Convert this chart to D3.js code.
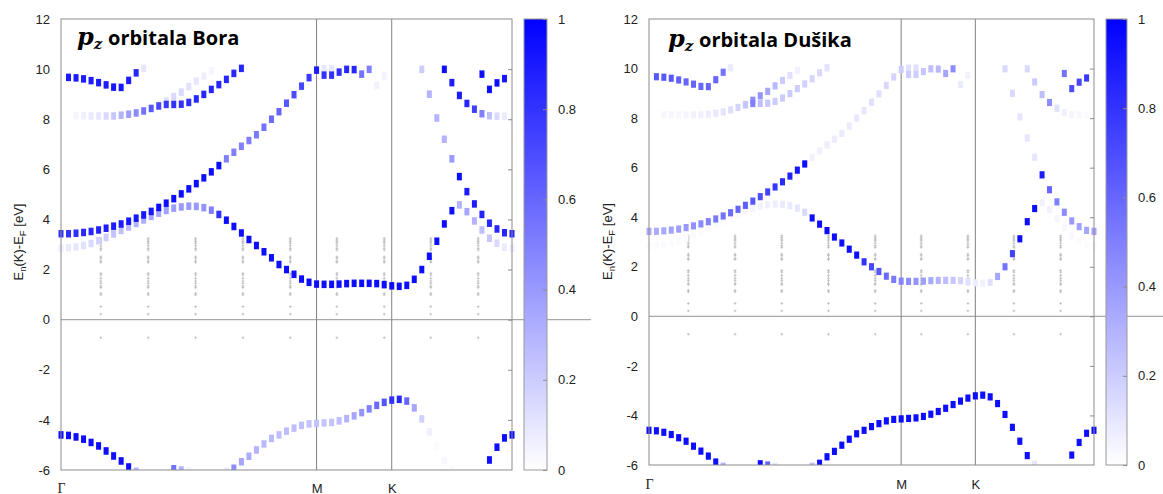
<!DOCTYPE html>
<html>
<head>
<meta charset="utf-8">
<script src="https://cdn.jsdelivr.net/npm/d3@7"></script>
<style>
  body { margin: 0; background: #fff; }
  svg { display: block; font-family: "Liberation Sans", Arial, sans-serif; }
  .tick text { font-size: 13px; fill: #222; font-family: "Liberation Sans", Arial, sans-serif; }
</style>
</head>
<body>
<svg id="chart" width="1163" height="494"></svg>
<script>
// pz projected band structure of h-BN, two panels (B and N weights)

// axis data
const kLabels = ['Γ', 'M', 'K'];
const kLabelIdx = [0, 34, 44];
const kMax = 60;
const energyTicks = [-6, -4, -2, 0, 2, 4, 6, 8, 10, 12];
const weightTicks = [0, 0.2, 0.4, 0.6, 0.8, 1];
const titleNames = ['Bora', 'Dušika'];

// small gray markers (k index of column, energies)
const refColumns = [5.3, 11.6, 17.9, 24.2, 30.5, 36.7, 43.0, 49.2, 55.5];
const refEnergies = [3.25, 3.18, 3.11, 3.05, 2.95, 2.85, 2.78, 2.51, 2.45, 2.34, 2.29,
    1.85, 1.78, 1.65, 1.54, 1.45, 1.34, 1.28, 1.05, 0.99, 0.52, 0.22, -0.72];

// band segments: energies starting at a k index, weight for B pz and N pz
const c1GM = [3.43, 3.43, 3.45, 3.48, 3.52, 3.58, 3.65, 3.73, 3.82, 3.93,
    4.05, 4.18, 4.32, 4.48, 4.65, 4.83, 5.02, 5.22, 5.43, 5.66,
    5.9, 6.15, 6.42, 6.68, 6.92, 7.15, 7.38, 7.68, 8.0, 8.3,
    8.64, 8.98, 9.32, 9.66, 9.96];
const c1GM_B = [0.8, 0.8, 0.82, 0.83, 0.85, 0.86, 0.88, 0.9, 0.9, 0.92,
    0.92, 0.93, 0.93, 0.94, 0.95, 0.95, 0.95, 0.95, 0.95, 0.95,
    0.95, 0.95, 0.5, 0.5, 0.5, 0.5, 0.52, 0.55, 0.58, 0.6,
    0.65, 0.7, 0.72, 0.78, 0.9];
const c1GM_N = [0.33, 0.33, 0.34, 0.36, 0.38, 0.4, 0.43, 0.46, 0.49, 0.52,
    0.55, 0.58, 0.6, 0.63, 0.66, 0.7, 0.74, 0.78, 0.83, 0.87,
    0.92, 0.97, 0.06, 0.06, 0.07, 0.07, 0.08, 0.08, 0.09, 0.1,
    0.12, 0.13, 0.15, 0.17, 0.2];

const c1KG = [9.99, 9.0, 8.05, 7.2, 6.42, 5.71, 5.11, 4.62, 4.2, 3.85, 3.62, 3.47, 3.43];
const c1KG_B = [0.2, 0.3, 0.3, 0.3, 0.4, 0.95, 0.9, 0.88, 0.86, 0.85, 0.85, 0.85, 0.85];
const c1KG_N = [0.15, 0.15, 0.1, 0.1, 0.1, 0.9, 0.6, 0.5, 0.45, 0.4, 0.37, 0.35, 0.35];

const c2 = [2.85, 2.87, 2.9, 2.96, 3.04, 3.15, 3.28, 3.42, 3.56, 3.7,
    3.84, 3.98, 4.12, 4.25, 4.36, 4.45, 4.5, 4.53, 4.52, 4.47,
    4.37, 4.2, 3.97, 3.72, 3.46, 3.2, 2.96, 2.71, 2.47, 2.2,
    2.0, 1.81, 1.62, 1.49, 1.42, 1.41, 1.41, 1.42, 1.44, 1.45,
    1.45, 1.45, 1.44, 1.4, 1.35, 1.33, 1.37, 1.61, 2.0, 2.53,
    3.13, 3.82, 4.35, 4.58, 4.31, 3.94, 3.58, 3.25, 3.05, 2.89,
    2.85];
const c2_B = [0.06, 0.08, 0.1, 0.12, 0.15, 0.18, 0.2, 0.23, 0.25, 0.28,
    0.3, 0.32, 0.34, 0.35, 0.37, 0.38, 0.4, 0.4, 0.4, 0.42,
    0.5, 0.8, 0.95, 0.95, 0.95, 0.95, 0.95, 0.95, 0.95, 0.95,
    0.95, 0.95, 0.95, 0.95, 0.95, 0.95, 0.95, 0.95, 0.95, 0.95,
    0.95, 0.95, 0.95, 0.95, 0.95, 0.95, 0.95, 0.95, 0.95, 0.95,
    0.95, 0.95, 0.95, 0.3, 0.35, 0.3, 0.25, 0.22, 0.15, 0.08,
    0.06];
const c2_N = [0.02, 0.02, 0.02, 0.02, 0.02, 0.02, 0.02, 0.02, 0.02, 0.02,
    0.02, 0.02, 0.02, 0.03, 0.04, 0.05, 0.06, 0.07, 0.08, 0.08,
    0.1, 0.15, 0.95, 0.95, 0.95, 0.95, 0.95, 0.95, 0.95, 0.8,
    0.72, 0.65, 0.58, 0.52, 0.48, 0.45, 0.42, 0.38, 0.34, 0.3,
    0.26, 0.22, 0.17, 0.12, 0.07, 0.05, 0.12, 0.35, 0.55, 0.75,
    0.95, 0.97, 0.97, 0.05, 0.05, 0.04, 0.03, 0.03, 0.02, 0.02,
    0.02];

const t1G = [9.67, 9.65, 9.61, 9.54, 9.46, 9.37, 9.28, 9.27, 9.55, 9.85, 10.03];
const t1G_B = [0.9, 0.9, 0.9, 0.9, 0.9, 0.9, 0.92, 0.92, 0.9, 0.85, 0.1];
const t1G_N = [0.65, 0.65, 0.65, 0.62, 0.6, 0.6, 0.6, 0.6, 0.6, 0.55, 0.08];
const t1K = [9.8, 9.19, 9.45, 9.62];
const t1K_B = [0.95, 0.95, 0.95, 0.92];
const t1K_N = [0.55, 0.7, 0.72, 0.78];

const t2G = [8.14, 8.14, 8.13, 8.13, 8.13, 8.13, 8.16, 8.2, 8.25, 8.33, 8.43, 8.53,
    8.59, 8.59, 8.6, 8.67, 8.81, 8.99, 9.19, 9.38, 9.59, 9.83, 10.03];
const t2G_B = [0.04, 0.06, 0.08, 0.1, 0.15, 0.22, 0.3, 0.38, 0.45, 0.55, 0.65, 0.72,
    0.78, 0.8, 0.8, 0.82, 0.85, 0.85, 0.85, 0.85, 0.85, 0.85, 0.85];
const t2G_N = [0.03, 0.03, 0.03, 0.04, 0.05, 0.06, 0.07, 0.09, 0.11, 0.13, 0.17, 0.22,
    0.5, 0.25, 0.22, 0.2, 0.2, 0.2, 0.2, 0.18, 0.16, 0.15, 0.12];
const t2K = [9.99, 9.46, 8.95, 8.63, 8.4, 8.22, 8.14, 8.12, 8.12];
const t2K_B = [0.95, 0.9, 0.9, 0.85, 0.75, 0.5, 0.25, 0.15, 0.08];
const t2K_N = [0.15, 0.2, 0.25, 0.45, 0.12, 0.06, 0.04, 0.03, 0.02];

const t3 = [8.55, 8.72, 8.9, 9.08, 9.3, 9.52, 9.72, 9.93];
const t3_B = [0.08, 0.12, 0.15, 0.15, 0.12, 0.1, 0.07, 0.04];
const t3_N = [0.2, 0.45, 0.42, 0.35, 0.28, 0.2, 0.12, 0.06];

const u1 = [9.76, 9.76, 9.88, 9.99, 9.98, 9.8, 9.99, 9.35, 9.72];
const u1_B = [0.8, 0.8, 0.82, 0.85, 0.85, 0.55, 0.5, 0.05, 0.05];
const u1_N = [0.2, 0.2, 0.22, 0.25, 0.28, 0.35, 0.45, 0.08, 0.05];
const u2 = [10.02, 10.02];
const u2_B = [0.1, 0.1];
const u2_N = [0.12, 0.12];

const v1G = [-4.6, -4.62, -4.68, -4.77, -4.9, -5.04, -5.24, -5.44, -5.64, -5.88, -6.05];
const v1G_B = [0.97, 0.97, 0.97, 0.97, 0.97, 0.97, 0.97, 0.97, 0.97, 0.97, 0.3];
const v1G_N = [0.97, 0.97, 0.97, 0.97, 0.97, 0.97, 0.97, 0.97, 0.97, 0.97, 0.3];
const v1K = [-5.6, -5.09, -4.72, -4.6];
const v1K_B = [0.97, 0.97, 0.97, 0.97];
const v1K_N = [0.95, 0.95, 0.95, 0.95];

const v2 = [-6.05, -5.93, -5.67, -5.45, -5.2, -4.96, -4.74, -4.6, -4.45, -4.33,
    -4.22, -4.16, -4.14, -4.12, -4.1, -4.04, -3.95, -3.84, -3.71, -3.56,
    -3.42, -3.3, -3.21, -3.18, -3.25, -3.52, -3.96, -4.48, -5.04, -5.62,
    -5.97];
const v2_B = [0.08, 0.45, 0.35, 0.33, 0.3, 0.28, 0.27, 0.26, 0.25, 0.25,
    0.25, 0.24, 0.23, 0.23, 0.24, 0.26, 0.3, 0.35, 0.42, 0.5,
    0.58, 0.68, 0.8, 0.85, 0.6, 0.35, 0.18, 0.06, 0.02, 0.03,
    0.02];
const v2_N = [0.25, 0.97, 0.97, 0.97, 0.97, 0.97, 0.97, 0.97, 0.97, 0.97,
    0.97, 0.97, 0.97, 0.97, 0.97, 0.97, 0.97, 0.97, 0.97, 0.97,
    0.97, 0.97, 0.97, 0.97, 0.97, 0.97, 0.97, 0.97, 0.97, 0.97,
    0.1];

const v3 = [-5.95, -6.0, -6.05];
const v3_B = [0.55, 0.3, 0.05];
const v3_N = [0.95, 0.6, 0.1];

const segments = [
    { start: 0, e: c1GM, w: [c1GM_B, c1GM_N] },
    { start: 48, e: c1KG, w: [c1KG_B, c1KG_N] },
    { start: 0, e: c2, w: [c2_B, c2_N] },
    { start: 1, e: t1G, w: [t1G_B, t1G_N] },
    { start: 56, e: t1K, w: [t1K_B, t1K_N] },
    { start: 2, e: t2G, w: [t2G_B, t2G_N] },
    { start: 51, e: t2K, w: [t2K_B, t2K_N] },
    { start: 13, e: t3, w: [t3_B, t3_N] },
    { start: 35, e: u1, w: [u1_B, u1_N] },
    { start: 35, e: u2, w: [u2_B, u2_N] },
    { start: 0, e: v1G, w: [v1G_B, v1G_N] },
    { start: 57, e: v1K, w: [v1K_B, v1K_N] },
    { start: 22, e: v2, w: [v2_B, v2_N] },
    { start: 15, e: v3, w: [v3_B, v3_N] }
];

// panel layout
const panels = [
    { left: 61, right: 512, top: 19, bottom: 470, cbLeft: 524, cbRight: 547, zeroEnd: 591,
      ylabX: 22.5, labY: 242, titleX: 77, titleY: 45, xlabY: 492.5, sw: 5, sh: 7.5 },
    { left: 649, right: 1094, top: 19, bottom: 465, cbLeft: 1106, cbRight: 1127, zeroEnd: 1163,
      ylabX: 611.5, labY: 241.5, titleX: 668, titleY: 46.5, xlabY: 488.5, sw: 5, sh: 7.2 }
];

const svg = d3.select('#chart');
const color = d3.scaleLinear().domain([0, 1]).range(['#ffffff', '#0000ff']);
const plainNum = d => String(d);   // keep ASCII hyphen for negatives
const defs = svg.append('defs');

// colorbar gradient
const grad = defs.append('linearGradient').attr('id', 'cbGrad')
    .attr('x1', 0).attr('y1', 1).attr('x2', 0).attr('y2', 0);
d3.range(0, 1.0001, 0.1).forEach(t => grad.append('stop').attr('offset', t).attr('stop-color', color(t)));

// soft edges of the squares
defs.append('filter').attr('id', 'soft')
    .attr('x', -0.1).attr('y', -0.1).attr('width', 1.2).attr('height', 1.2)
    .append('feGaussianBlur').attr('stdDeviation', 0.45);

panels.forEach((p, pi) => drawPanel(p, pi));

function drawPanel(p, pi) {
    const x = d3.scaleLinear().domain([0, kMax]).range([p.left, p.right]);
    const y = d3.scaleLinear().domain([-6, 12]).range([p.bottom, p.top]);
    const cb = d3.scaleLinear().domain([0, 1]).range([p.bottom, p.top]);
    const g = svg.append('g');

    defs.append('clipPath').attr('id', 'clip' + pi).append('rect')
        .attr('x', p.left - 8).attr('y', p.top)
        .attr('width', p.right - p.left + 16).attr('height', p.bottom - p.top);

    // zero line (runs past the colorbar)
    g.append('line')
        .attr('x1', p.left).attr('x2', p.zeroEnd)
        .attr('y1', y(0)).attr('y2', y(0))
        .attr('stroke', '#a8a8a8').attr('stroke-width', 1.3);

    // high-symmetry lines
    g.selectAll('line.ksym').data(kLabelIdx.slice(1)).join('line')
        .attr('class', 'ksym')
        .attr('x1', d => x(d)).attr('x2', d => x(d))
        .attr('y1', p.top).attr('y2', p.bottom)
        .attr('stroke', '#808080').attr('stroke-width', 1);

    // gray reference markers
    const refPts = refColumns.flatMap(k => refEnergies.map(e => [x(k), y(e)]));
    g.append('path')
        .attr('d', refPts.map(([px, py]) => `M${px - 1.4},${py}h2.8M${px},${py - 1.4}v2.8`).join(''))
        .attr('stroke', '#b4b4b4').attr('stroke-width', 0.7).attr('fill', 'none');

    // weighted squares
    const pts = [];
    segments.forEach(s => s.e.forEach((e, j) => {
        const w = s.w[pi][j];
        if (w > 0.015) pts.push({ k: s.start + j, e: e, w: w });
    }));
    pts.sort((a, b) => a.w - b.w);

    g.append('g').attr('clip-path', `url(#clip${pi})`)
        .append('g').attr('filter', 'url(#soft)')
        .selectAll('rect').data(pts).join('rect')
        .attr('x', d => x(d.k) - p.sw / 2)
        .attr('y', d => y(d.e) - p.sh / 2)
        .attr('width', p.sw)
        .attr('height', p.sh)
        .attr('fill', d => color(d.w));

    // border
    g.append('rect')
        .attr('x', p.left).attr('y', p.top)
        .attr('width', p.right - p.left).attr('height', p.bottom - p.top)
        .attr('fill', 'none').attr('stroke', '#8c8c8c').attr('stroke-width', 1);

    // y tick labels
    const yAxis = g.append('g').attr('transform', `translate(${p.left},0)`)
        .call(d3.axisLeft(y).tickValues(energyTicks).tickSize(0).tickPadding(11).tickFormat(plainNum));
    yAxis.select('.domain').remove();

    // mirrored inward ticks on the right border
    const yMirror = g.append('g').attr('transform', `translate(${p.right},0)`)
        .call(d3.axisLeft(y).tickValues(energyTicks.slice(1, -1)).tickSize(4).tickFormat(''));
    yMirror.select('.domain').remove();
    yMirror.selectAll('line').attr('stroke', '#8c8c8c');

    // k-point labels
    const xAxis = g.append('g').attr('transform', `translate(0,${p.bottom})`)
        .call(d3.axisBottom(x).tickValues(kLabelIdx).tickFormat((d, i) => kLabels[i]).tickSize(0));
    xAxis.select('.domain').remove();
    xAxis.selectAll('text')
        .attr('y', p.xlabY - p.bottom).attr('dy', null)
        .style('font-family', (d, i) => i === 0 ? '"Liberation Serif", "DejaVu Serif", serif' : null)
        .style('font-size', (d, i) => i === 0 ? '14px' : '13px');

    // y axis title
    const yl = g.append('text')
        .attr('transform', `translate(${p.ylabX},${p.labY}) rotate(-90)`)
        .attr('text-anchor', 'middle')
        .style('font-size', '13px').attr('fill', '#222');
    yl.append('tspan').text('E');
    yl.append('tspan').attr('dy', 3).style('font-size', '9.5px').text('n');
    yl.append('tspan').attr('dy', -3).text('(K)-E');
    yl.append('tspan').attr('dy', 3).style('font-size', '9.5px').text('F');
    yl.append('tspan').attr('dy', -3).text(' [eV]');

    // title
    const t = g.append('text').attr('x', p.titleX).attr('y', p.titleY).attr('fill', '#000');
    t.append('tspan')
        .style('font-family', '"DejaVu Serif", serif').style('font-style', 'italic')
        .style('font-weight', 'bold').style('font-size', '24px').text('p');
    t.append('tspan').attr('dy', 4)
        .style('font-family', '"DejaVu Serif", serif').style('font-style', 'italic')
        .style('font-weight', 'bold').style('font-size', '15px').text('z');
    t.append('tspan').attr('dy', -4).attr('x', p.titleX + 31)
        .style('font-family', '"Open Sans", sans-serif')
        .style('font-weight', 'bold').style('font-size', '20px')
        .text('orbitala ' + titleNames[pi]);

    // colorbar
    g.append('rect')
        .attr('x', p.cbLeft).attr('y', p.top)
        .attr('width', p.cbRight - p.cbLeft).attr('height', p.bottom - p.top)
        .attr('fill', 'url(#cbGrad)').attr('stroke', '#9a9a9a').attr('stroke-width', 1);
    const cbAxis = g.append('g').attr('transform', `translate(${p.cbRight},0)`)
        .call(d3.axisRight(cb).tickValues(weightTicks).tickSizeInner(-4).tickSizeOuter(0)
            .tickPadding(11).tickFormat(plainNum));
    cbAxis.select('.domain').remove();
    cbAxis.selectAll('line').attr('stroke', '#8c8c8c');
}
</script>
</body>
</html>
